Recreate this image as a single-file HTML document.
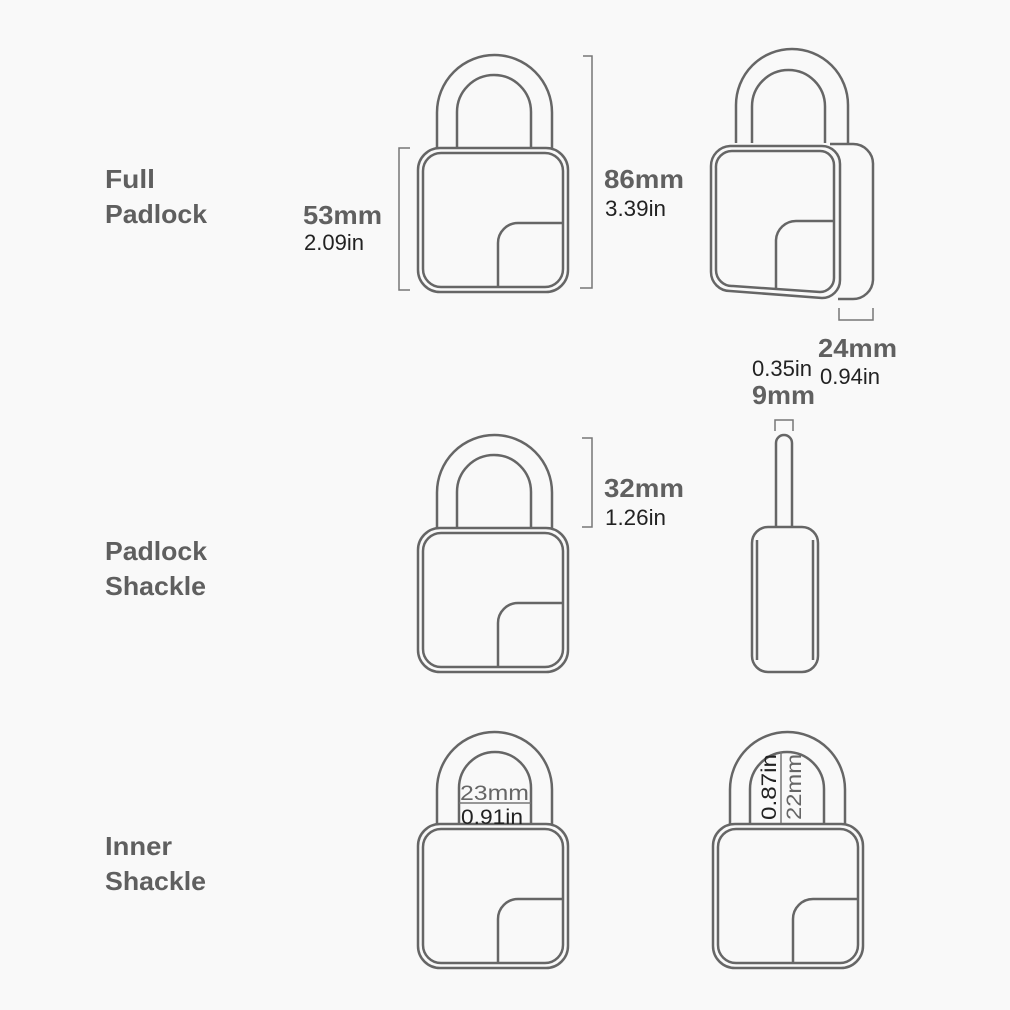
<!DOCTYPE html>
<html><head><style>
html,body{margin:0;padding:0;background:#f9f9f9;}
svg{display:block;}
.l{font-family:"Liberation Sans",sans-serif;font-weight:bold;font-size:26px;fill:#5f5f5f;}
.b{font-family:"Liberation Sans",sans-serif;font-weight:bold;font-size:26px;fill:#606060;}
.r{font-family:"Liberation Sans",sans-serif;font-size:22px;fill:#222;}
.s{fill:none;stroke:#666;stroke-width:2.5;}
.t{fill:none;stroke:#777;stroke-width:1.5;}
</style></head><body>
<svg width="1010" height="1010" viewBox="0 0 1010 1010" xmlns="http://www.w3.org/2000/svg">

<g transform="translate(418,148)">
  <path class="s" d="M19,0 V-35.5 A57.5,57.5 0 0 1 134,-35.5 V0"/>
  <path class="s" d="M39,0 V-36 A37,37 0 0 1 113,-36 V0"/>
  <rect class="s" x="0" y="0" width="150" height="144" rx="22"/>
  <rect class="s" x="5" y="5" width="140" height="134" rx="18"/>
  <path class="s" d="M80,139 V95 A20,20 0 0 1 100,75 H145"/>
</g>
<g transform="translate(418,528)">
  <path class="s" d="M19,0 V-35.5 A57.5,57.5 0 0 1 134,-35.5 V0"/>
  <path class="s" d="M39,0 V-36 A37,37 0 0 1 113,-36 V0"/>
  <rect class="s" x="0" y="0" width="150" height="144" rx="22"/>
  <rect class="s" x="5" y="5" width="140" height="134" rx="18"/>
  <path class="s" d="M80,139 V95 A20,20 0 0 1 100,75 H145"/>
</g>
<g transform="translate(418,824)">
  <path class="s" d="M19,0 V-34.5 A57.5,57.5 0 0 1 134,-34.5 V0"/>
  <path class="s" d="M41,0 V-36 A36,36 0 0 1 113,-36 V0"/>
  <rect class="s" x="0" y="0" width="150" height="144" rx="22"/>
  <rect class="s" x="5" y="5" width="140" height="134" rx="18"/>
  <path class="s" d="M80,139 V95 A20,20 0 0 1 100,75 H145"/>
</g>
<g transform="translate(713,824)">
  <path class="s" d="M17,0 V-34.5 A57.5,57.5 0 0 1 132,-34.5 V0"/>
  <path class="s" d="M37,0 V-35 A37,37 0 0 1 111,-35 V0"/>
  <rect class="s" x="0" y="0" width="150" height="144" rx="22"/>
  <rect class="s" x="5" y="5" width="140" height="134" rx="18"/>
  <path class="s" d="M80,139 V95 A20,20 0 0 1 100,75 H145"/>
</g>

<!-- perspective padlock top right -->
<g>
  <path class="s" d="M736,143 V105 A56,56 0 0 1 848,105 V143"/>
  <path class="s" d="M752,143 V106.5 A36.5,36.5 0 0 1 825,106.5 V143"/>
  <path class="s" d="M830,144 H852 A20,20 0 0 1 873,165 V280 A20,20 0 0 1 853,299 H838"/>
  <path class="s" d="M730,146 H822 A18,18 0 0 1 840,164 V280 A18,18 0 0 1 822,298 L730,291 A19,19 0 0 1 711,272 V166 A20,20 0 0 1 730,146 Z"/>
  <path class="s" d="M733,151 H820 A14,14 0 0 1 834,165 V278 A14,14 0 0 1 820,292 L733,286 A16,16 0 0 1 716,270 V168 A16,16 0 0 1 733,151 Z"/>
  <path class="s" d="M776,289 V240 A20,20 0 0 1 796,221 H834"/>
</g>

<!-- side view -->
<g>
  <path class="s" d="M776,527 V443 A8,8 0 0 1 792,443 V527"/>
  <rect class="s" x="752" y="527" width="66" height="145" rx="16"/>
  <line class="s" x1="757" y1="540" x2="757" y2="660"/>
  <line class="s" x1="813" y1="540" x2="813" y2="660"/>
</g>

<!-- dimension brackets -->
<path class="t" d="M410,148 H399 V290 H410"/>
<path class="t" d="M583,56 H592 V288 H580"/>
<path class="t" d="M582,438 H592 V527 H582"/>
<path class="t" d="M839,308 V320 H873 V308"/>
<path class="t" d="M775,431 V420 H793 V431"/>

<!-- inner shackle measurements -->
<line class="t" x1="459" y1="803" x2="531" y2="803"/>
<line class="t" x1="781" y1="752" x2="781" y2="823"/>
<text x="460" y="800" font-family="Liberation Sans,sans-serif" font-size="21" fill="#666" textLength="69" lengthAdjust="spacingAndGlyphs">23mm</text>
<text x="461" y="824" font-family="Liberation Sans,sans-serif" font-size="21" fill="#222" textLength="62" lengthAdjust="spacingAndGlyphs">0.91in</text>
<text transform="translate(776,820) rotate(-90)" font-family="Liberation Sans,sans-serif" font-size="21" fill="#222" textLength="66" lengthAdjust="spacingAndGlyphs">0.87in</text>
<text transform="translate(801,820) rotate(-90)" font-family="Liberation Sans,sans-serif" font-size="21" fill="#666" textLength="66" lengthAdjust="spacingAndGlyphs">22mm</text>

<!-- labels -->
<text class="l" x="105" y="188" textLength="50" lengthAdjust="spacingAndGlyphs">Full</text>
<text class="l" x="105" y="223" textLength="102" lengthAdjust="spacingAndGlyphs">Padlock</text>
<text class="l" x="105" y="560" textLength="102" lengthAdjust="spacingAndGlyphs">Padlock</text>
<text class="l" x="105" y="595" textLength="101" lengthAdjust="spacingAndGlyphs">Shackle</text>
<text class="l" x="105" y="855" textLength="67" lengthAdjust="spacingAndGlyphs">Inner</text>
<text class="l" x="105" y="890" textLength="101" lengthAdjust="spacingAndGlyphs">Shackle</text>

<text class="b" x="303" y="224" textLength="79" lengthAdjust="spacingAndGlyphs">53mm</text>
<text class="r" x="304" y="250" textLength="60" lengthAdjust="spacingAndGlyphs">2.09in</text>
<text class="b" x="604" y="188" textLength="80" lengthAdjust="spacingAndGlyphs">86mm</text>
<text class="r" x="605" y="216" textLength="61" lengthAdjust="spacingAndGlyphs">3.39in</text>
<text class="b" x="604" y="497" textLength="80" lengthAdjust="spacingAndGlyphs">32mm</text>
<text class="r" x="605" y="525" textLength="61" lengthAdjust="spacingAndGlyphs">1.26in</text>
<text class="b" x="818" y="357" textLength="79" lengthAdjust="spacingAndGlyphs">24mm</text>
<text class="r" x="820" y="384" textLength="60" lengthAdjust="spacingAndGlyphs">0.94in</text>
<text class="r" x="752" y="376" textLength="60" lengthAdjust="spacingAndGlyphs">0.35in</text>
<text class="b" x="752" y="404" textLength="63" lengthAdjust="spacingAndGlyphs">9mm</text>
</svg>
</body></html>
